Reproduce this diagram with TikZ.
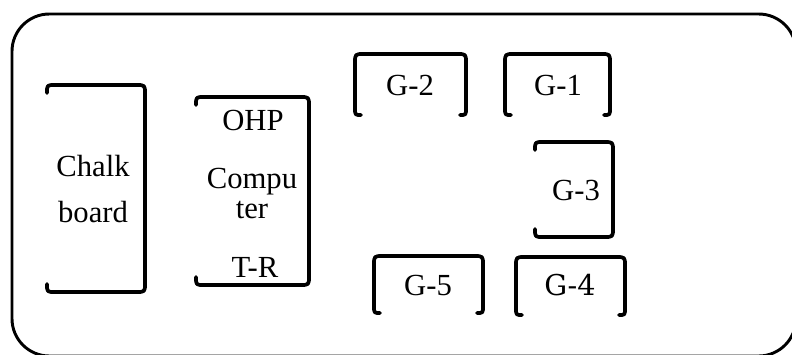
\documentclass[tikz,border=0pt]{standalone}
\usepackage{fontspec}
\setmainfont{Liberation Serif}
\newfontfamily\gfourfont{DejaVu Serif}
\newcommand{\openleft}[4]{%
  \draw[bracketline] (#1,#2+8) .. controls (#1,#2) .. (#1+8,#2) -- (#3-9,#2)
    .. controls (#3,#2) .. (#3,#2+9) -- (#3,#4-9)
    .. controls (#3,#4) .. (#3-9,#4) -- (#1+8,#4)
    .. controls (#1,#4) .. (#1,#4-8);}
\newcommand{\openbottom}[4]{%
  \draw[bracketline] (#1+6,#4) .. controls (#1,#4) .. (#1,#4-7) -- (#1,#2+9)
    .. controls (#1,#2) .. (#1+9,#2) -- (#3-9,#2)
    .. controls (#3,#2) .. (#3,#2+9) -- (#3,#4-7)
    .. controls (#3,#4) .. (#3-6,#4);}
\tikzset{
  bracketline/.style={line width=2.8pt, line cap=round, line join=round},
  outerline/.style={line width=2.2pt},
  lbl/.style={anchor=base, inner sep=0pt, font=\fontsize{23}{27}\selectfont},
  lblb/.style={anchor=base, inner sep=0pt, font=\gfourfont\fontsize{21.5}{26}\selectfont},
}
\begin{document}
\begin{tikzpicture}[x=0.75pt,y=-0.75pt]
\useasboundingbox (0,0) rectangle (792,354);
\clip (0,0) rectangle (792,354);
\fill[white] (0,0) rectangle (792,354);
% outer frame
\draw[outerline, rounded corners=28] (12,14) rectangle (796,356);
% Chalkboard
\openleft{47}{85}{145}{292}
\node[lbl] (chalk) at (93,176) {Chalk};
\node[lbl] (board) at (93,222) {board};
% OHP / Computer / T-R
\openleft{196}{97}{309}{285}
\node[lbl] (ohp) at (253,130) {OHP};
\node[lbl] (compu) at (252,188) {Compu};
\node[lbl] (ter) at (252,218) {ter};
\node[lbl] (tr) at (255,277) {T-R};
% G-2, G-1
\openbottom{355}{54}{466}{115}
\node[lbl] (g2) at (410,95) {G-2};
\openbottom{505}{54}{610}{115}
\node[lbl] (g1) at (558,95) {G-1};
% G-3
\openleft{535}{142}{613}{237}
\node[lbl] (g3) at (576,200) {G-3};
% G-5, G-4
\openbottom{374}{256}{483}{313}
\node[lbl] (g5) at (428,295) {G-5};
\openbottom{516}{257}{625}{315}
\node[lblb] (g4) at (570,295) {G-4};
\end{tikzpicture}
\end{document}
